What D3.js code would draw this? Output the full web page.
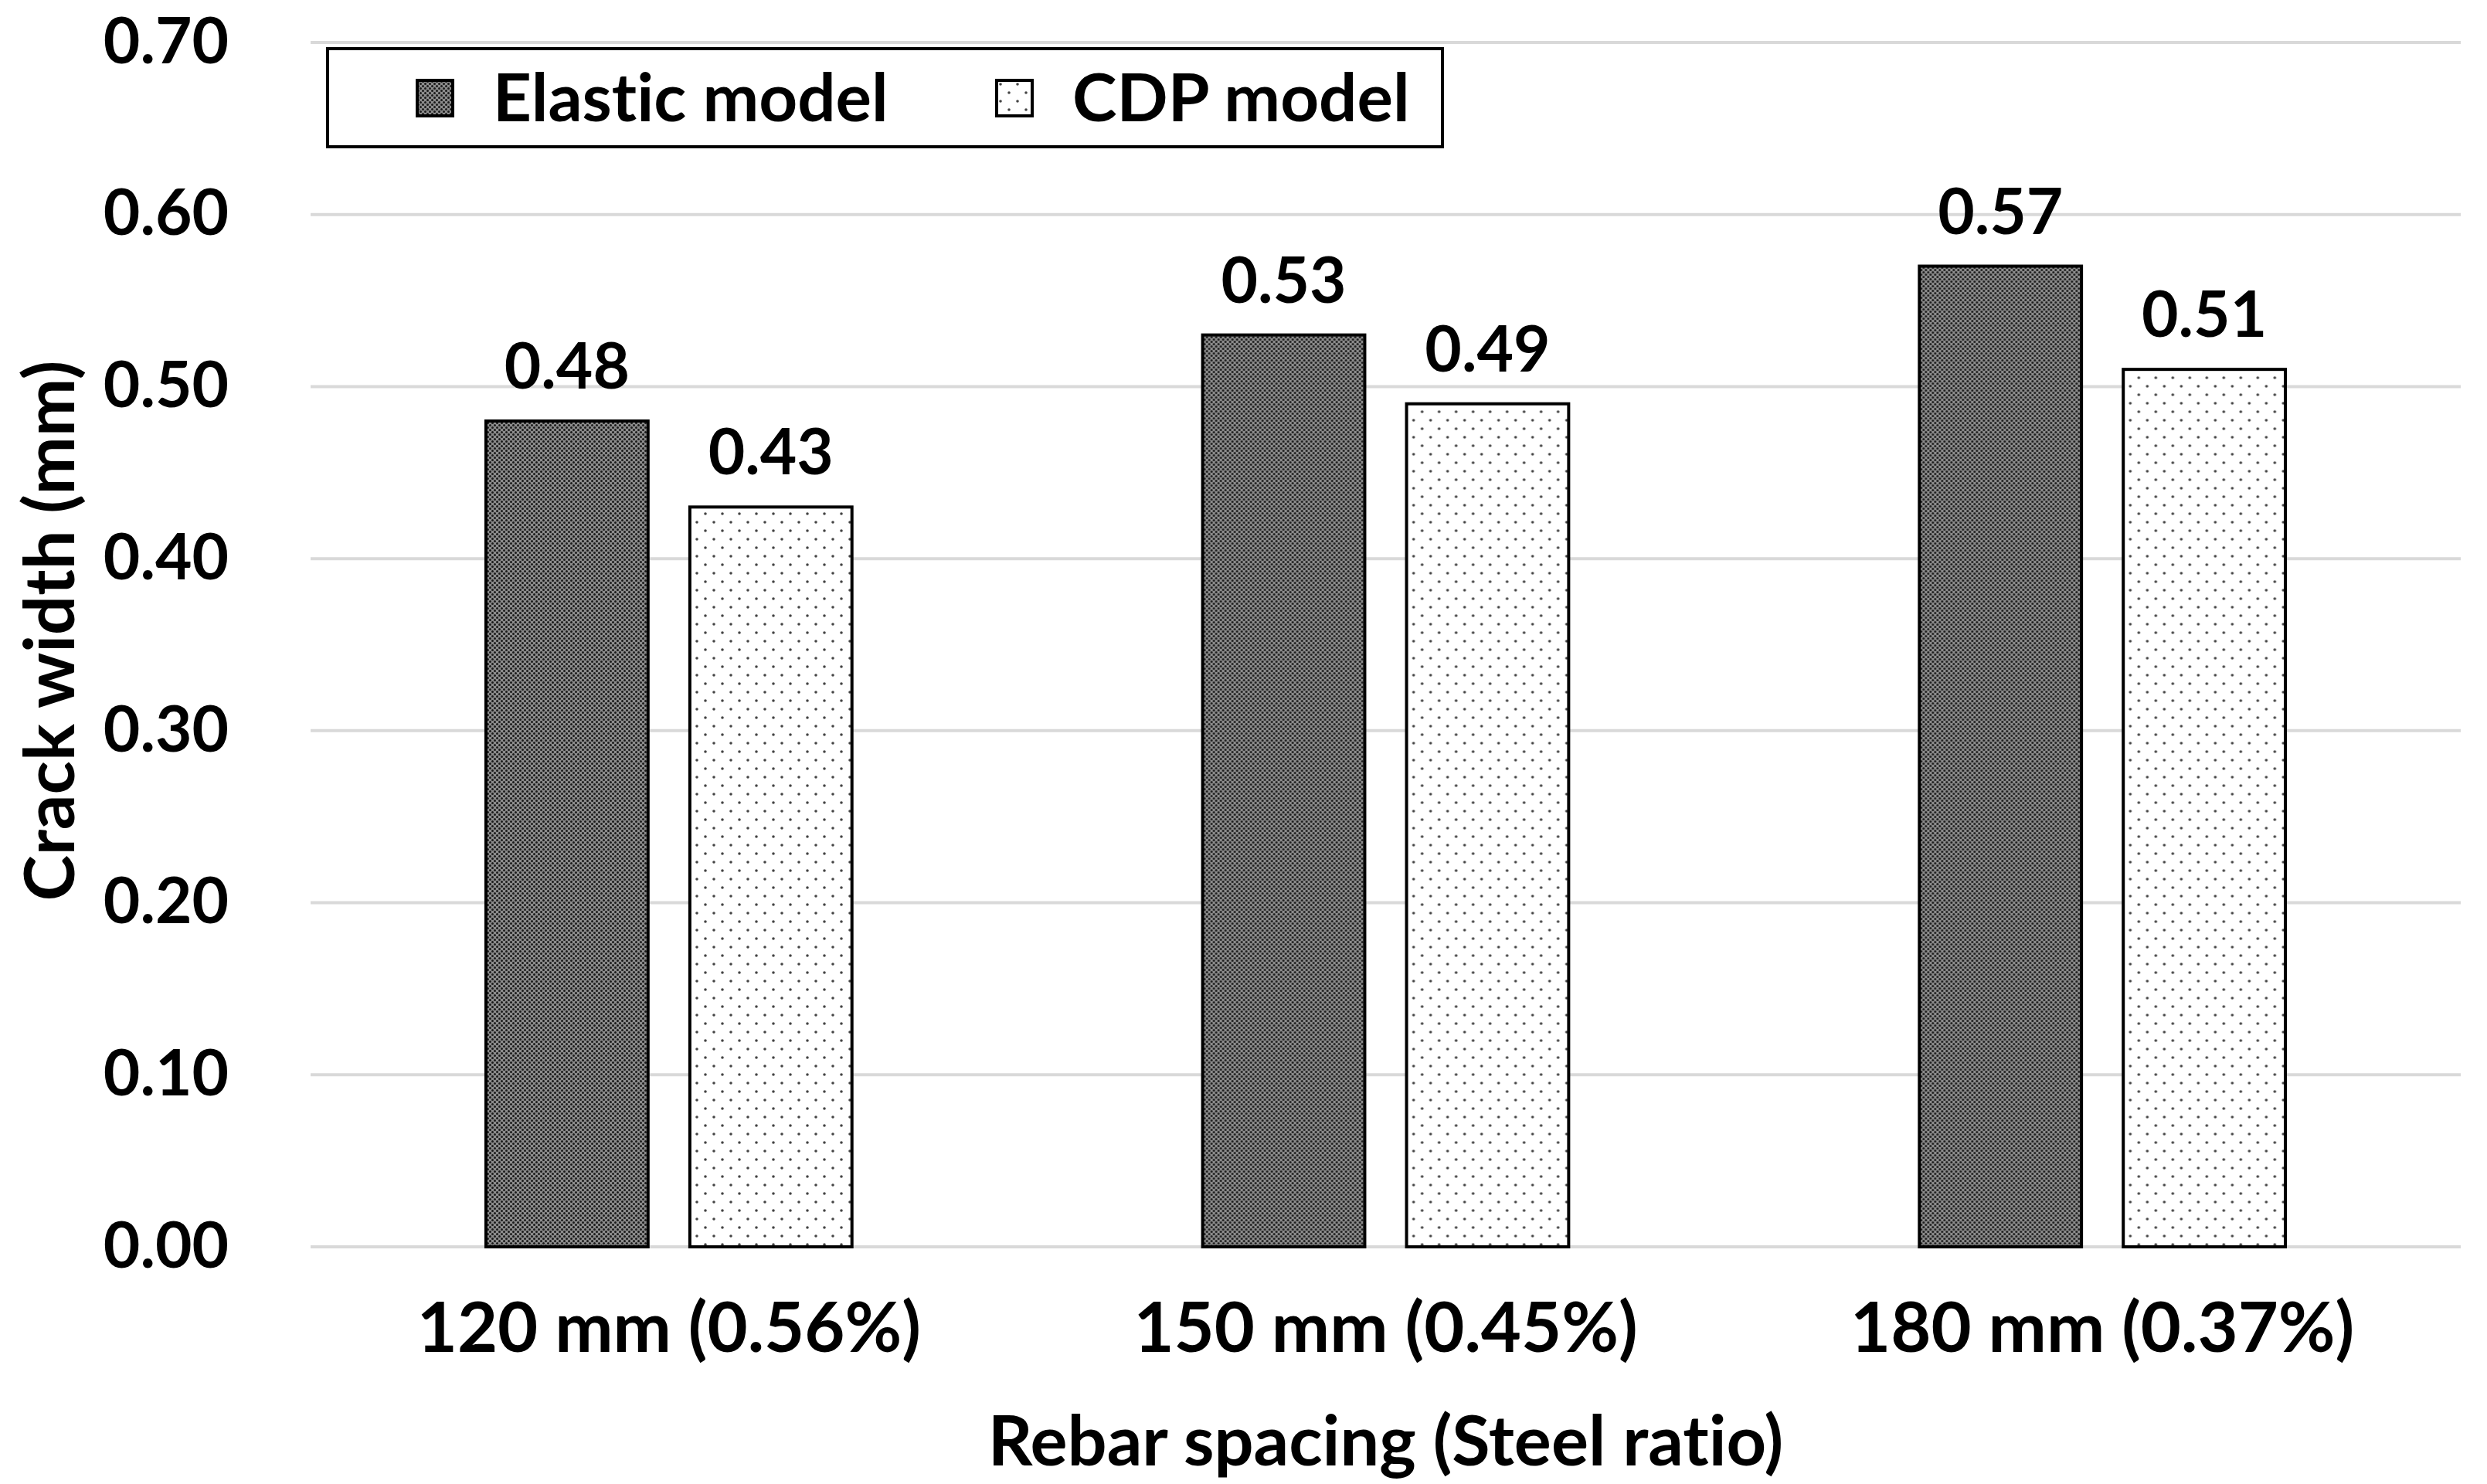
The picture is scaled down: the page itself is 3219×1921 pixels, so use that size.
<!DOCTYPE html>
<html>
<head>
<meta charset="utf-8">
<script src="https://cdn.jsdelivr.net/npm/d3@7"></script>
<style>
  body { margin: 0; background: #fff; }
  text { font-family: Lato, "Open Sans", sans-serif; font-weight: bold; fill: #000; font-variant-ligatures: none; }
</style>
</head>
<body>
<div id="chart"></div>
<script>
const categories = ["120 mm (0.56%)", "150 mm (0.45%)", "180 mm (0.37%)"];
const seriesNames = ["Elastic model", "CDP model"];
const elasticValues = [0.48, 0.53, 0.57];
const cdpValues = [0.43, 0.49, 0.51];
const yTicks = [0, 0.1, 0.2, 0.3, 0.4, 0.5, 0.6, 0.7];

const width = 3219;
const height = 1921;
const margin = { top: 55, right: 34, bottom: 307, left: 402 };

const data = categories.map((c, i) => ({
  category: c,
  values: [
    { series: seriesNames[0], value: elasticValues[i] },
    { series: seriesNames[1], value: cdpValues[i] }
  ]
}));

const svg = d3.select("#chart")
  .append("svg")
  .attr("width", width)
  .attr("height", height);

// fill patterns
const defs = svg.append("defs");
const darkPat = defs.append("pattern")
  .attr("id", "pat-elastic")
  .attr("patternUnits", "userSpaceOnUse")
  .attr("width", 6).attr("height", 6);
darkPat.append("rect").attr("width", 6).attr("height", 6).attr("fill", "#8c8c8c");
darkPat.append("circle").attr("cx", 1.5).attr("cy", 1.5).attr("r", 1.5).attr("fill", "#1a1a1a");
darkPat.append("circle").attr("cx", 4.5).attr("cy", 4.5).attr("r", 1.5).attr("fill", "#1a1a1a");

const lightPat = defs.append("pattern")
  .attr("id", "pat-cdp")
  .attr("patternUnits", "userSpaceOnUse")
  .attr("width", 22).attr("height", 22);
lightPat.append("rect").attr("width", 22).attr("height", 22).attr("fill", "#fff");
lightPat.append("circle").attr("cx", 5).attr("cy", 5).attr("r", 1.8).attr("fill", "#444");
lightPat.append("circle").attr("cx", 16).attr("cy", 16).attr("r", 1.8).attr("fill", "#444");

const fills = d3.scaleOrdinal()
  .domain(seriesNames)
  .range(["url(#pat-elastic)", "url(#pat-cdp)"]);

const x0 = d3.scaleBand()
  .domain(categories)
  .range([margin.left, width - margin.right]);

const x1 = d3.scaleBand()
  .domain(seriesNames)
  .range([0, x0.bandwidth()])
  .paddingInner(0.205)
  .paddingOuter(0.86);

const y = d3.scaleLinear()
  .domain([0, 0.7])
  .range([height - margin.bottom, margin.top]);

// gridlines
svg.append("g")
  .selectAll("line")
  .data(yTicks)
  .enter()
  .append("line")
  .attr("x1", margin.left)
  .attr("x2", width - margin.right)
  .attr("y1", d => y(d))
  .attr("y2", d => y(d))
  .attr("stroke", "#d9d9d9")
  .attr("stroke-width", 4);

// y axis labels
const yAxis = svg.append("g")
  .attr("transform", `translate(${margin.left},0)`)
  .call(d3.axisLeft(y).tickValues(yTicks).tickFormat(d3.format(".2f")).tickSize(0).tickPadding(106));
yAxis.select(".domain").remove();
yAxis.selectAll("text")
  .attr("font-size", "82px")
  .attr("font-family", "Lato")
  .attr("font-weight", "bold")
  .attr("fill", "#000");

// bars
const groups = svg.selectAll(".category")
  .data(data)
  .enter()
  .append("g")
  .attr("transform", d => `translate(${x0(d.category)},0)`);

groups.selectAll("rect")
  .data(d => d.values)
  .enter()
  .append("rect")
  .attr("x", d => x1(d.series))
  .attr("y", d => y(d.value))
  .attr("width", x1.bandwidth())
  .attr("height", d => y(0) - y(d.value))
  .attr("fill", d => fills(d.series))
  .attr("stroke", "#000")
  .attr("stroke-width", 4);

groups.selectAll(".label")
  .data(d => d.values)
  .enter()
  .append("text")
  .attr("x", d => x1(d.series) + x1.bandwidth() / 2)
  .attr("y", d => y(d.value) - 42)
  .attr("text-anchor", "middle")
  .attr("font-size", "82px")
  .text(d => d.value.toFixed(2));

// x axis labels
const xAxis = svg.append("g")
  .attr("transform", `translate(0,${height - margin.bottom})`)
  .call(d3.axisBottom(x0).tickSize(0).tickPadding(72));
xAxis.select(".domain").remove();
xAxis.selectAll("text")
  .attr("font-size", "90px")
  .attr("font-family", "Lato")
  .attr("font-weight", "bold")
  .attr("fill", "#000");

// axis titles
svg.append("text")
  .attr("x", (margin.left + width - margin.right) / 2)
  .attr("y", 1897)
  .attr("text-anchor", "middle")
  .attr("font-size", "90px")
  .text("Rebar spacing (Steel ratio)");

svg.append("text")
  .attr("transform", "rotate(-90)")
  .attr("x", -(margin.top + height - margin.bottom) / 2 + 18)
  .attr("y", 96)
  .attr("text-anchor", "middle")
  .attr("font-size", "90px")
  .text("Crack width (mm)");

// legend
const legend = svg.append("g");
legend.append("rect")
  .attr("x", 424).attr("y", 63)
  .attr("width", 1443).attr("height", 127)
  .attr("fill", "#fff")
  .attr("stroke", "#000")
  .attr("stroke-width", 4);

const legendX = [540, 1290];
const items = legend.selectAll(".item")
  .data(seriesNames)
  .enter()
  .append("g")
  .attr("transform", (d, i) => `translate(${legendX[i]},104)`);
items.append("rect")
  .attr("width", 46).attr("height", 46)
  .attr("fill", d => fills(d))
  .attr("stroke", "#000")
  .attr("stroke-width", 4);
items.append("text")
  .attr("x", 98)
  .attr("y", 53)
  .attr("font-size", "87px")
  .text(d => d);
</script>
</body>
</html>
